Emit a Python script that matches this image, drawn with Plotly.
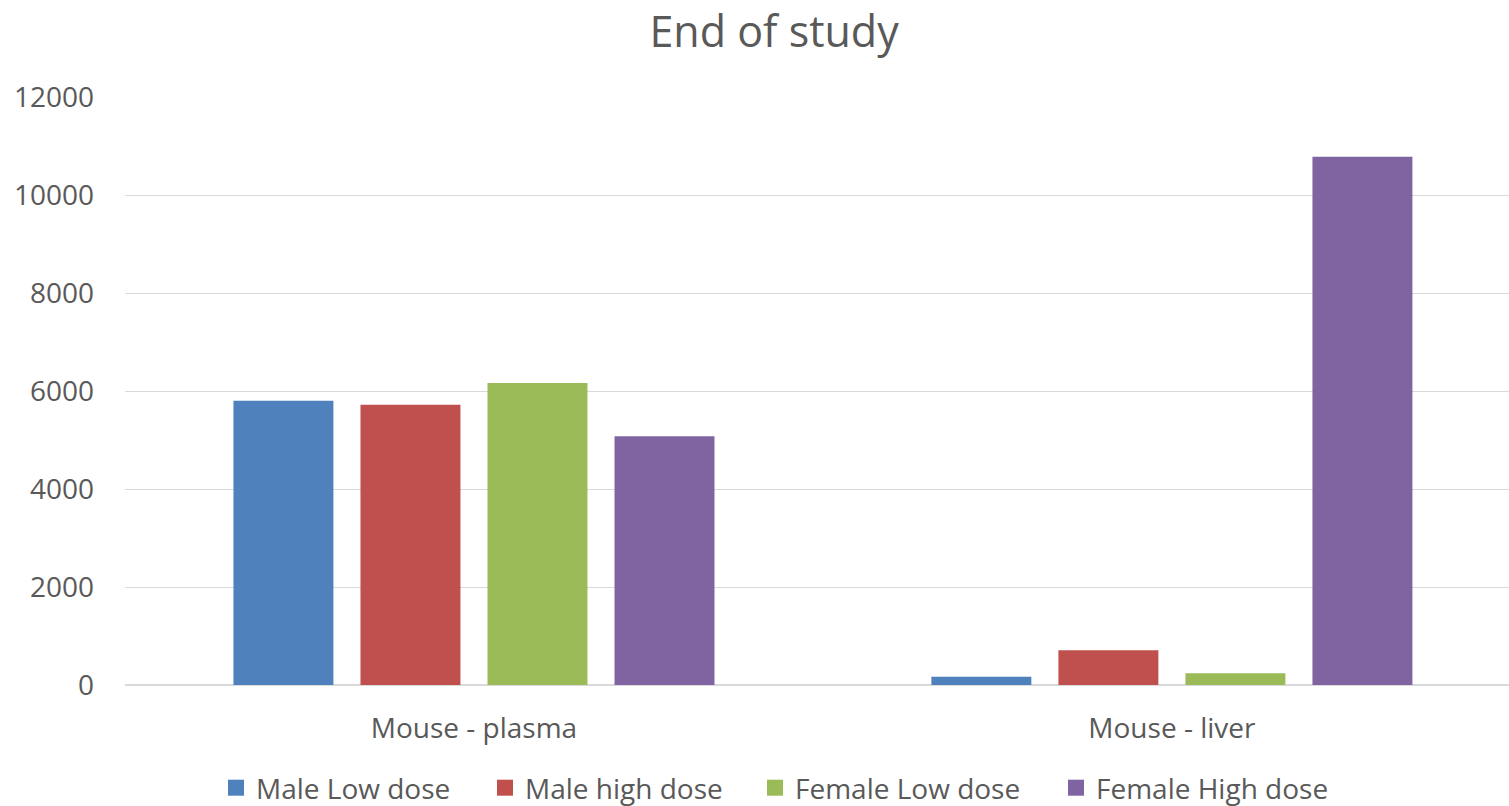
import plotly.graph_objects as go

categories = ["Mouse - plasma", "Mouse - liver"]
series_names = ["Male Low dose", "Male high dose", "Female Low dose", "Female High dose"]
male_low = [5800, 170]
male_high = [5720, 710]
female_low = [6165, 240]
female_high = [5075, 10780]
colors = ["#4F81BD", "#C0504D", "#9BBB59", "#8064A2"]
y_ticks = [0, 2000, 4000, 6000, 8000, 10000, 12000]
y_tick_text = ["0", "2000", "4000", "6000", "8000", "10000", "12000"]

FONT = "Open Sans"
GREY = "#595959"
W, H = 1509, 806
legend_px = [216, 485, 755, 1056]  # left edge of each legend entry

fig = go.Figure()
legend_names = ["legend", "legend2", "legend3", "legend4"]
series_values = [male_low, male_high, female_low, female_high]
for name, vals, col in zip(series_names, series_values, colors):
    fig.add_trace(go.Bar(x=categories, y=vals, name=name, legendgroup=name, showlegend=False,
                         marker=dict(color=col, line=dict(width=0))))
# legend entries with larger square swatches
for name, col, lg in zip(series_names, colors, legend_names):
    fig.add_trace(go.Scatter(x=[None], y=[None], mode="markers", name=name, legendgroup=name,
                             legend=lg, showlegend=True, hoverinfo="skip",
                             marker=dict(symbol="square", size=16, color=col, line=dict(width=0))))

layout_legends = {}
for lg, px in zip(legend_names, legend_px):
    layout_legends[lg] = dict(orientation="h", xref="container", x=px / W, xanchor="left",
                              yref="container", y=18 / H, yanchor="middle",
                              font=dict(size=28, color=GREY), itemwidth=30,
                              bgcolor="rgba(0,0,0,0)", visible=True)

fig.update_layout(
    width=W, height=H, showlegend=True,
    paper_bgcolor="white", plot_bgcolor="white",
    margin=dict(l=125, r=0, t=97, b=121),
    barmode="group", bargap=0.272, bargroupgap=0.213,
    font=dict(family=FONT, color=GREY, size=28),
    title=dict(text="End of study", x=0.469, xref="paper", xanchor="center",
               y=0.96, yref="container", yanchor="middle",
               font=dict(family=FONT, size=43, color=GREY)),
    xaxis=dict(showgrid=False, showline=False, ticks="", ticklabelstandoff=24,
               range=[-0.5, 1.483], tickfont=dict(size=28, color=GREY)),
    yaxis=dict(range=[0, 12000], tickvals=y_ticks, ticktext=y_tick_text,
               showgrid=True, gridcolor="#D9D9D9", gridwidth=1,
               zeroline=True, zerolinecolor="#D9D9D9", zerolinewidth=2,
               ticks="", ticklabelstandoff=30, tickfont=dict(size=28, color=GREY)),
    **layout_legends,
)

fig.write_html("out.html")
